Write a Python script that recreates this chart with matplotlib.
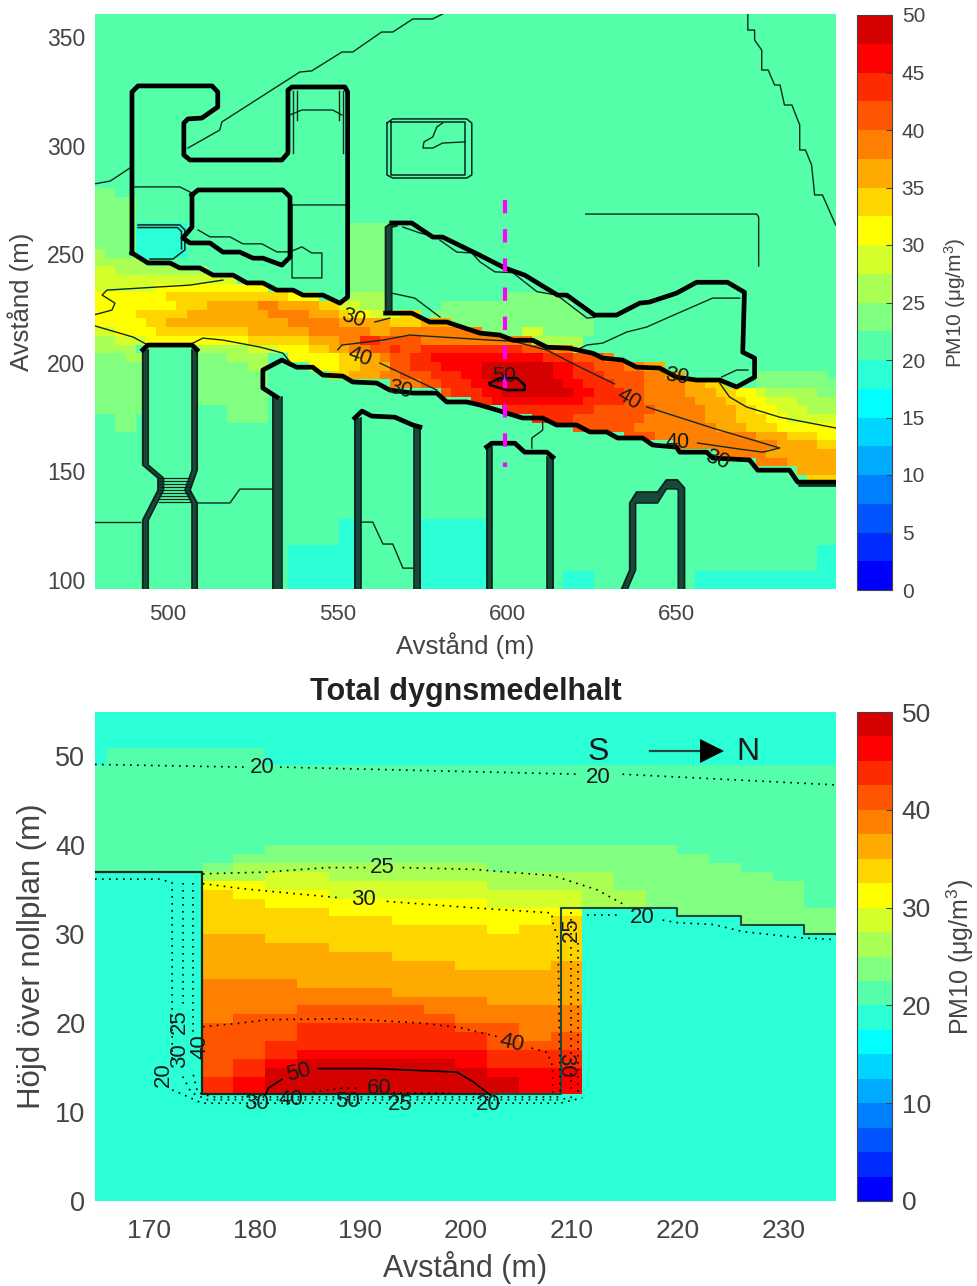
import matplotlib
matplotlib.use("Agg")
import matplotlib.pyplot as plt
import numpy as np
from matplotlib.colors import ListedColormap, BoundaryNorm

plt.rcParams['font.family'] = ['Liberation Sans', 'DejaVu Sans']
plt.rcParams['mathtext.fontset'] = 'custom'
plt.rcParams['mathtext.rm'] = 'Liberation Sans'
plt.rcParams['mathtext.it'] = 'Liberation Sans:italic'
plt.rcParams['mathtext.default'] = 'regular'

# ---------- colour classes (2.5 ug/m3 wide) ----------
CLASS_COLORS = ['#0000ff', '#002bff', '#0055ff', '#0080ff', '#00aaff', '#00d5ff', '#00ffff',
                '#2affd5', '#55ffaa', '#80ff80', '#aaff55', '#d5ff2a', '#ffff00', '#ffd500',
                '#ffaa00', '#ff8000', '#ff5500', '#ff2b00', '#ff0000', '#d50000']
CLASS_LETTERS = 'abcdefghijklmnopqrst'
CLASS_EDGES = np.arange(0, 50.01, 2.5)

# ---------- plan view field: rows from the top, "<class><last column>" runs ----------
PLAN_DEFAULT = 'i'
PLAN_ROWS = {
    20: "j1 i", 21: "j3 i", 22: "j3 i", 23: "j3 i",
    24: "j3 h8 i24 j28 i", 25: "j3 h8 i24 j28 i", 26: "j3 h8 i24 j28 i",
    27: "k0 j3 h8 i24 j28 i",
    28: "k4 i24 j28 i",
    29: "l1 k10 i24 j28 i",
    30: "l13 i24 j28 i",
    31: "l5 m16 i24 j28 i",
    32: "m6 n18 m21 i24 k28 i39 j45 i",
    33: "m7 n10 o15 p17 o21 n23 l25 k28 i33 j46 i",
    34: "m3 n8 o16 p20 o23 n24 m26 l29 n31 i32 j47 i",
    35: "m4 n6 o18 p23 o28 n31 o34 j48 i",
    36: "l1 m5 n14 o20 p26 o28 p37 j41 l43 j48 i",
    37: "k1 l4 m14 n20 o23 p25 r27 q31 p42 k47 i",
    38: "k3 i9 k14 l17 m20 n22 o24 p26 q28 r29 q31 r41 q44 p46 k47 i",
    39: "j2 k4 i9 j12 k16 i18 m23 n25 o27 p28 q30 r32 s43 r46 q49 p50 i",
    40: "j4 i9 j14 k16 i20 m23 n25 o28 q30 r33 s37 t44 s46 r48 q51 p53 o55 i",
    41: "j4 i9 j16 i22 n24 o27 p29 q32 r35 s37 t44 s46 r49 q53 p55 o57 i64 j71 i",
    42: "j4 i9 j16 i28 p31 q33 r36 s38 t45 s47 r50 q53 p57 o59 n61 i64 j73",
    43: "j4 i9 j16 i33 q34 r37 s39 t46 s48 r51 q53 p57 o60 n62 m64 l65 k70 j73",
    44: "j4 i9 j16 i36 r38 s47 r51 q53 p58 o61 n63 m65 l68 k73",
    45: "j4 i12 j16 i39 r48 q54 p59 o62 n64 m66 l69 k73",
    46: "i1 j3 i12 j16 i42 r46 q53 p59 o62 n65 m67 l73",
    47: "i1 j3 i46 q52 p60 o63 n66 m73",
    48: "i51 q54 p64 o67 n70 m73",
    49: "i56 p66 o70 n73",
    50: "i60 p65 o72 n73",
    51: "i64 p67 o73",
    52: "i68 o72 n73",
    53: "i69 n73",
    58: "i23 h25 i31 h38 i", 59: "i23 h25 i31 h38 i", 60: "i23 h25 i31 h38 i",
    61: "i18 h25 i31 h38 i70 h73", 62: "i18 h25 i31 h38 i70 h73", 63: "i18 h25 i31 h38 i70 h73",
    64: "i18 h25 i31 h38 i45 h48 i58 h73", 65: "i18 h25 i31 h38 i45 h48 i58 h73",
    66: "i18 h25 i31 h38 i45 h48 i58 h73",
}
PLAN_NCOL, PLAN_NROW = 73, 67
PLAN_X0, PLAN_DX = 478.5, 3.0
PLAN_YTOP, PLAN_DY = 360.6, 4.005

# ---------- section field: columns from the left, "<class><last row>" runs, 1 m rows ----------
SECTION_COLS = [
    "h36 i48 h", "h36 i50 h", "h36 i50 h", "h36 i50 h",
    "h11 r13 q19 p24 o29 n34 m35 k36 j37 i50 h",
    "h11 s13 r15 q20 p24 o29 n33 m35 k37 j38 i50 h",
    "h11 t14 s15 r17 q20 p24 o28 n32 m34 l36 k37 j39 i48 h",
    "h11 t15 s16 r19 q21 p23 o28 n32 m34 l36 k37 j39 i48 h",
    "h11 t15 s16 r19 q21 p23 o27 n31 m33 l35 k37 j39 i48 h",
    "h11 t15 s16 r19 q21 p23 o27 n31 m33 l35 k37 j39 i48 h",
    "h11 t15 s16 r19 q21 p22 o26 n30 m33 l35 k37 j39 i48 h",
    "h11 t15 s16 r19 q20 p22 o26 n30 m33 l35 k37 j39 i48 h",
    "h11 t14 s16 r18 q19 p22 o25 n30 m33 l35 k37 j39 i48 h",
    "h11 t13 s14 r16 q19 p21 o25 n29 m32 l34 k36 j39 i48 h",
    "h11 s14 r16 q17 p21 o25 n30 m32 l34 k36 j39 i48 h",
    "h11 s14 r16 q18 p21 o26 n31 m32 l34 k36 j39 i48 h",
    "h32 k36 j39 i48 h", "h32 k34 j39 i48 h", "h32 j39 i48 h", "h31 j38 i48 h",
    "h31 j37 i48 h", "h30 j36 i48 h", "h30 j35 i48 h", "h29 j32 i48 h", "h29 j32 i48 h",
]
SECTION_NROW = 56
SECTION_X0, SECTION_DX = 163.0, 3.0

# ---------- plan view outlines (metres) ----------
BLD_A = [(489.4,250.6),(489.4,324.7),(491.2,327.5),(513,327.5),(514.7,324.7),(514.7,317.8),(510,312.7),
         (505.9,312.3),(504.7,310.4),(504.7,295.7),(506.5,293.4),(533.6,293.4),(535.4,296.6),(535.4,325.6),
         (536.6,327),(552.2,327),(553,324.7),(553,230.3),(550.7,227.5),(545.7,231.2),(539.8,231.2),
         (536.9,233.5),(532.1,233.5),(528,236.8),(523.3,236.8),(519.2,240.4),(513.3,240.4),(509.4,243.7),
         (503.5,243.7),(500.6,246),(494.1,246),(489.4,250.6)]
COURT = [(507.1,277.3),(508.9,279.6),(533.9,279.6),(536,276.3),(536,248.7),(533.6,245),(528,248.2),(525.1,248.2),
         (521.2,251),(516.2,251),(512.4,255.2),(506.5,255.2),(504.4,257.5),(507.1,262.5),(507.1,277.3)]
BLD_C = [(566,264.4),(571.9,264.4),(578.1,257.9),(581,257.9),(591.9,249.6),(599.3,243.7),(605.2,240.4),
         (614.9,231.2),(617.6,231.2),(625.8,222),(632.3,222),(639.1,227.5),(642,228),(650,232.1),(655.9,237.1),
         (665,237.1),(670,232.5),(669.5,204.9),(673,202.2),(673,193.4),(667.7,188.9),(662.7,192.1),(655.9,192.1),
         (650,193.4),(645,197.6),(638.2,198),(634.1,201.3),(628.2,202.2),(625.3,204.4),(618.5,206.7),(611.8,207.2),
         (607.6,210.4),(601.7,210.4),(597.9,212.8),(592,213.7),(582.2,218.8),(577.2,218.8),(571.9,222.9),(564.2,222.9)]
SOUTH_WALL = [(532.1,184.3),(528,188.4),(528,196.7),(533.6,201.3),(538,198),(542.7,198),(545.7,194.4),
              (551.6,193.9),(554.5,191.2),(561.6,190.7),(565.4,187.5),(572.2,186.1),(579.3,186.1),(582.2,182),(588.1,182),
              (592,180.6),(597,178.3),(604.6,174.6),(610.5,174.6),(614.6,171.4),(620.5,171.4),(624.4,168.2),(629.4,168.2),
              (632.6,165.4),(640,165.4),(642.9,162.2),(650,161.2),(650.9,158.9),(658.9,158.9),(660.6,156.2),(671.5,155.3),
              (673.9,150.6),(683.3,150.6),(685.7,145.1),(697,145.1)]
E_ROOF = [(492.6,206),(494.1,208.2),(507.1,208.2),(508.6,206)]
BLD_F_TOP = [(555.1,174.6),(557.2,177.8),(560.1,175.5),(566.9,175),(572.2,171.4),(574.3,170.5)]
BLD_G_TOP = [(594,161.3),(595.5,163),(602.3,163),(605.2,158.9),(611.7,158.9),(613.5,156.6)]
# pairs of outer and inner edges of the wall bands, where contours crowd together
WALL_BANDS = [
    ([(492.6,95.9),(492.6,127.6),(497.1,141.4),(497.1,147),(492.6,153),(492.6,206)],
     [(494.2,95.9),(494.2,127.6),(498.7,141.4),(498.7,147),(494.2,153),(494.2,206)]),
    ([(508.6,206),(508.6,150.6),(506.5,141.4),(508.6,135.5),(508.6,95.9)],
     [(507.1,206),(507.1,150.6),(505,141.4),(507.1,135.5),(507.1,95.9)]),
    ([(555.1,95.9),(555.1,174.6)], [(556.8,95.9),(556.8,174.6)]),
    ([(574.3,95.9),(574.3,170.5)], [(572.6,95.9),(572.6,170.5)]),
    ([(594,95.9),(594,161.3)], [(595.7,95.9),(595.7,161.3)]),
    ([(613.5,95.9),(613.5,156.6)], [(611.8,95.9),(611.8,156.6)]),
    ([(530.9,95.9),(530.9,185.5)], [(533.5,95.9),(533.5,184.3)]),
    ([(564.2,222.9),(564.2,262.5),(566,264.4)], [(566,222.9),(566,262.5),(567.5,263)]),
    ([(633.8,95.9),(636.2,104.6),(636.2,135.5),(638.2,140.5),(644.4,140.5),(647,146.1),(650.2,146.1),(652.3,142.4),(652.3,95.9)],
     [(635.5,95.9),(637.9,104.6),(637.9,135.5),(644.4,135.5),(647,142),(650.2,142),(650.5,141),(650.5,95.9)]),
    ([(685.7,145.1),(697,145.1)], [(686.2,143.4),(697,143.4)]),
]
E_RUNGS = [147, 145.7, 144.4, 143, 141.4, 140, 138.7, 137.3, 136]
BOX_OUT = [(564.6,310.4),(566.3,312.3),(588.1,312.3),(589.6,310.4),(589.6,286.5),(588.1,285.1),(566.3,285.1),(564.6,286.5),(564.6,310.4)]
BOX_IN = [(565.9,310.9),(587.6,310.9),(587.6,286.4),(565.9,286.4),(565.9,310.9)]
CYAN_BOX = [(491.2,263.5),(503.5,263.5),(505,261.2),(505,252),(501.5,247.8),(494.7,247.8)]
CYAN_BOX2 = [(491.2,262.3),(502.8,262.3),(504,260.5),(504,252.5)]
THIN_LINES = [
    [(478,282.3),(483,283.7),(488.8,289.7)],
    [(505.9,298.9),(515.3,307.2),(515.9,310.9),(538.9,333.9),(542.4,334.4),(551.3,343.1),(554.5,343.1),(563,352.3),
     (566.3,352.3),(572.2,358.3),(578,358.3),(581,360.6)],
    [(490.3,281),(503.5,281),(507.1,278.2)],
    [(508.9,261.2),(512.4,258),(518.3,258),(522.1,254.8),(527.7,254.8),(532.1,251.1),(536,251.1),(539.5,253.4),
     (542.4,250.6),(545.4,250.6),(545.4,239.1),(536.6,239.1),(536.6,272.7),(552.7,272.7)],
    [(535.9,314.1),(539.5,316.4),(548.6,316.4),(551.3,314.1)],
    [(536.9,325),(536.9,296.6)], [(538,325),(538,312)], [(551.6,325),(551.6,296.6)], [(550.4,325),(550.4,312)],
    [(587.5,301.7),(581,301.2),(578.1,298.9),(575.2,298.9),(575.5,301.7),(578.1,304),(579.3,308.6),(581,310.4)],
    [(569.3,262.5),(574.3,259.8),(579.3,257.9)],
    [(580.2,256.5),(585.2,251),(589.6,250.6),(592,246.5),(596.4,241.9),(601.7,241.5),(608.8,232.8),(614.7,231.2),
     (623.6,220.6),(625.9,221)],
    [(620.5,205.9),(623.5,208.2),(628.2,209.1),(635.3,214.2),(641.2,216.5),(647.1,220.6),(655.9,226.6),(660.6,229.8),(668.6,229.8)],
    [(663.3,193.5),(667.7,196.7),(671,196.7)],
    [(566,232.1),(572.8,229.8),(580.2,221.1)],
    [(623.2,268.5),(673.6,268.5),(674.2,267.1),(674.2,244.6)],
    [(671,360.6),(671,353.2),(673,353.2),(673,348.6),(675.1,344),(675.1,334.8),(677,334.8),(678.9,327.9),(680.5,327.9),
     (681.8,318.7),(684,318.7),(686.3,309.5),(686.3,298),(688,298),(689.8,291.1),(690.7,277.3),(693,277.3),(696.9,263.5)],
    [(557.2,126.7),(560.4,126.7),(563.4,116.6),(566.3,116.6),(569.3,105.5),(572.2,105.5)],
    [(478.5,126.7),(491.8,126.7)],
    [(508.6,135.5),(518.3,135.5),(521.2,141.9),(530.7,141.9)],
    [(607.3,160.8),(607.3,165.4),(610.5,169),(610.5,172.7)],
    [(478,222),(483.5,224.3),(484.4,227.5),(480.6,231.2),(482,233.5),(496.8,234.9),(506.5,235.8),(516.2,238.1)],
    [(478.5,217),(489.7,211.9),(494.1,208.2)],
    [(507.4,209.1),(510.3,211.4),(516.2,210.5),(527.1,207.3),(533.9,204.5),(536,200.4)],
    [(561,218.8),(565.4,220.6)],
    [(550.1,206),(551.3,208.2),(563.4,210.5),(571.3,212.8),(594.9,210.5),(601.7,210),(611.7,205.9),(621.4,198.1),(631.7,190.3)],
    [(641.2,179.7),(660.6,170),(680.4,160.8),(675.4,158.9),(668.6,160.3),(656.2,163.1)],
    [(562.5,199.9),(579.3,187.5)],
    [(662.7,190.7),(665.6,184.3),(670.6,179.7),(680.4,175),(697,170)],
]
CONTOUR_50 = [(594.9,190.7),(597.9,193),(602.9,193),(605.2,189.8),(605.2,187.5),(599.9,187.5),(594.9,189.8),(594.9,190.7)]
PLAN_LABELS = [("30",554.8,220.6,-18),("40",556.6,202.7,-20),("30",568.4,187.5,-15),("40",635.9,183.3,-30),
               ("40",650.3,163.5,0),("30",650,193.5,-10),("30",662,155.3,-20),("50",599.3,193.5,0)]
PROFILE_X = [599.5, 599.5]
PROFILE_Y = [275, 152]

# ---------- section outlines ----------
SEC_SOLID = [(164.9,37),(175,37),(175,12),(202.5,12)]
SEC_SOLID2 = [(202.5,12),(209,12),(209,33),(220,33),(220,32),(226,32),(226,31),(232,31),(232,30),(235,30)]
SEC_50 = [(181,11.9),(181.3,12.7),(182.6,13.7)]
SEC_50B = [(186,14.9),(191.2,14.9),(199.1,14.5),(200.7,13.4),(202.3,11.9)]
SEC_DOTTED = [
    [(175.1,36.8),(181.2,37),(186.8,37.5),(190.9,37.5)],
    [(194,37.5),(200.7,37.3),(208.2,36.6),(212.4,35),(215,33.3)],
    [(175.1,35.7),(178.3,35.2),(181.7,34.8),(188.1,34.1)],
    [(192.5,33.7),(200.4,33),(208.1,32.4),(208.2,31.4),(208.7,29.4),(208.9,12.2)],
    [(175.1,19.6),(178.6,20),(181.2,20.4),(188.7,20.5),(195.9,20),(199.4,19.5),(202.9,18.5)],
    [(206.2,17.2),(207.7,16.7),(208.2,15.1),(208.2,12.2)],
    [(164.9,49.1),(179.1,48.8)], [(182.4,48.8),(210.8,48)], [(214.8,48),(235,46.8)],
    [(211.4,32.2),(214.8,32.2)], [(218.6,31.6),(220,31.3),(223.4,31.1),(226.2,30.3),(231.6,29.6),(235,29.4)],
    [(164.9,36.2),(171,36.2),(172.2,35.8),(172.2,16)], [(172.2,12.5),(173.2,12),(175,11),(208.9,11),(211,11.6)],
    [(173.2,35.8),(173.2,22)], [(173.2,14),(174,12.2),(175.5,11.4),(208.9,11.4),(210.5,11.8)],
    [(174.2,35.8),(174.2,19)], [(174.2,14.2),(174.6,12.2),(176,11.7),(208.9,11.7)],
    [(209.9,32.5),(209.9,12)], [(210.6,29),(210.6,12)],
    [(185.5,12.3),(188.4,12.7),(190,12.7)], [(193.1,12.2),(198.5,12.2)],
]
SEC_LABELS = [("20",180.7,48.8,0),("20",212.5,47.6,0),("25",192.1,37.5,0),("30",190.3,33.9,0),("20",216.7,31.9,0),
              ("40",204.3,17.7,-12),("50",184.2,14.4,15),("25",210,30.5,90),("30",209.4,15.2,270),("25",172.9,20.2,90),
              ("30",172.9,16.4,90),("40",174.8,17.4,90),("20",171.4,14.2,90),("30",180.2,11,0),("40",183.4,11.4,0),
              ("50",188.8,11.2,0),("60",191.8,12.6,0),("25",193.8,10.8,0),("20",202.1,10.8,0)]
WIND_FROM, WIND_TO, WIND_Y = 217.4, 224.4, 50.6

class_value = {c: (CLASS_EDGES[i] + CLASS_EDGES[i + 1]) / 2 for i, c in enumerate(CLASS_LETTERS)}


def runs(spec, n, default='i'):
    out = [default] * n
    start = 0
    for tok in spec.split():
        end = int(tok[1:]) if len(tok) > 1 else n - 1
        for k in range(start, min(end + 1, n)):
            out[k] = tok[0]
        start = end + 1
    return [class_value[c] for c in out]


plan = np.array([runs(PLAN_ROWS.get(r, PLAN_DEFAULT), PLAN_NCOL) for r in range(PLAN_NROW)])
plan_x = PLAN_X0 + PLAN_DX * np.arange(PLAN_NCOL + 1)
plan_y = PLAN_YTOP - PLAN_DY * np.arange(PLAN_NROW + 1)

section = np.array([runs(c, SECTION_NROW) for c in SECTION_COLS]).T
section_x = SECTION_X0 + SECTION_DX * np.arange(len(SECTION_COLS) + 1)
section_y = np.arange(SECTION_NROW + 1)

cmap = ListedColormap(CLASS_COLORS)
norm = BoundaryNorm(CLASS_EDGES, cmap.N)

W, H = 977, 1286
fig = plt.figure(figsize=(W / 100, H / 100), dpi=100)


def rect(x0, y0, x1, y1):
    return [x0 / W, 1 - y1 / H, (x1 - x0) / W, (y1 - y0) / H]


GREY = '#444444'
DARK = '#0b261d'
BAND = '#17483a'

ax1 = fig.add_axes(rect(95, 14, 836, 589))
m1 = ax1.pcolormesh(plan_x, plan_y, plan, cmap=cmap, norm=norm, shading='flat')
ax1.set_xlim(478.5, 697)
ax1.set_ylim(95.9, 360.6)


def line(ax, pts, **kw):
    xs, ys = zip(*pts)
    ax.plot(xs, ys, solid_joinstyle='round', **kw)


for pts in THIN_LINES:
    line(ax1, pts, color='#102a20', lw=1.0)
for outer, inner in WALL_BANDS:
    poly = outer + inner[::-1]
    xs, ys = zip(*poly)
    ax1.fill(xs, ys, color=BAND, lw=0)
    line(ax1, outer, color=DARK, lw=1.4)
    line(ax1, inner, color=DARK, lw=1.2)
for y in E_RUNGS:
    ax1.plot([497.5, 506.5], [y, y], color=DARK, lw=0.9)
for pts in (BOX_OUT, BOX_IN, CYAN_BOX, CYAN_BOX2):
    line(ax1, pts, color=DARK, lw=1.1)
for pts in (BLD_A, COURT, BLD_C, SOUTH_WALL, E_ROOF, BLD_F_TOP, BLD_G_TOP):
    line(ax1, pts, color='black', lw=3.4)
line(ax1, CONTOUR_50, color='black', lw=1.8)
ax1.plot(PROFILE_X, PROFILE_Y, color='#ff00ff', lw=3.0, linestyle=(0, (3.2, 3.8)))
for t, x, y, rot in PLAN_LABELS:
    ax1.text(x, y, t, fontsize=15.5, rotation=rot, ha='center', va='center', color='#1a1a1a')

ax1.set_xticks([500, 550, 600, 650])
ax1.set_yticks([100, 150, 200, 250, 300, 350])
ax1.tick_params(axis='x', labelsize=16, colors=GREY, length=0, pad=11)
ax1.tick_params(axis='y', labelsize=16.5, colors=GREY, length=0, pad=7)
ax1.set_xlabel('Avstånd (m)', fontsize=18.5, color=GREY)
ax1.set_ylabel('Avstånd (m)', fontsize=18.5, color=GREY)
ax1.xaxis.set_label_coords(0.5, -0.0748)
ax1.yaxis.set_label_coords(-0.082, 0.5)
for s in ax1.spines.values():
    s.set_visible(False)

cax1 = fig.add_axes(rect(857, 15, 892, 590))
cb1 = fig.colorbar(m1, cax=cax1, ticks=np.arange(0, 51, 5), spacing='proportional')
cb1.ax.minorticks_off()
cb1.ax.tick_params(labelsize=15, colors=GREY, direction='in', length=4, width=0.8, pad=7)
cb1.outline.set_edgecolor(GREY)
cb1.set_label('PM10 ($\\mu$g/m$^3$)', fontsize=15, color=GREY)
cb1.ax.yaxis.set_label_coords(2.43, 0.5)

ax2 = fig.add_axes(rect(95, 712, 836, 1201))
m2 = ax2.pcolormesh(section_x, section_y, section, cmap=cmap, norm=norm, shading='flat')
ax2.set_xlim(164.9, 235)
ax2.set_ylim(0, 55)
line(ax2, SEC_SOLID, color='#102a20', lw=1.6)
line(ax2, SEC_SOLID2, color='#1d4a3a', lw=1.5)
line(ax2, SEC_50, color='black', lw=1.2)
line(ax2, SEC_50B, color='black', lw=1.2)
for pts in SEC_DOTTED:
    line(ax2, pts, color='black', lw=1.2, linestyle=(0, (1, 3.2)))
for t, x, y, rot in SEC_LABELS:
    ax2.text(x, y, t, fontsize=16, rotation=rot, ha='center', va='center', color='#1a1a1a')
ax2.text(212.5, 50.5, 'S', fontsize=23, ha='center', va='center', color='#1a1a1a')
ax2.text(226.7, 50.5, 'N', fontsize=23, ha='center', va='center', color='#1a1a1a')
ax2.plot([WIND_FROM, WIND_TO - 2.0], [WIND_Y, WIND_Y], color='#1d4a3a', lw=1.6)
ax2.plot([WIND_TO - 1.1], [WIND_Y], marker='>', ms=17, color='black', mew=0, ls='none')
ax2.set_xticks(np.arange(170, 231, 10))
ax2.set_yticks(np.arange(0, 51, 10))
ax2.tick_params(axis='x', labelsize=19, colors=GREY, length=0, pad=13)
ax2.tick_params(axis='y', labelsize=19.5, colors=GREY, length=0, pad=7)
ax2.set_xlabel('Avstånd (m)', fontsize=22, color=GREY)
ax2.set_ylabel('Höjd över nollplan (m)', fontsize=22.5, color=GREY)
ax2.xaxis.set_label_coords(0.5, -0.102)
ax2.yaxis.set_label_coords(-0.065, 0.5)
ax2.set_title('Total dygnsmedelhalt', fontsize=22, fontweight='bold', color='#222222', pad=9)
for s in ax2.spines.values():
    s.set_visible(False)

cax2 = fig.add_axes(rect(857, 712, 892, 1201))
cb2 = fig.colorbar(m2, cax=cax2, ticks=np.arange(0, 51, 10), spacing='proportional')
cb2.ax.minorticks_off()
cb2.ax.tick_params(labelsize=19, colors=GREY, direction='in', length=4, width=0.8, pad=7)
cb2.outline.set_edgecolor(GREY)
cb2.set_label('PM10 ($\\mu$g/m$^3$)', fontsize=18, color=GREY)
cb2.ax.yaxis.set_label_coords(2.5, 0.5)

fig.savefig('out.png', dpi=100)
